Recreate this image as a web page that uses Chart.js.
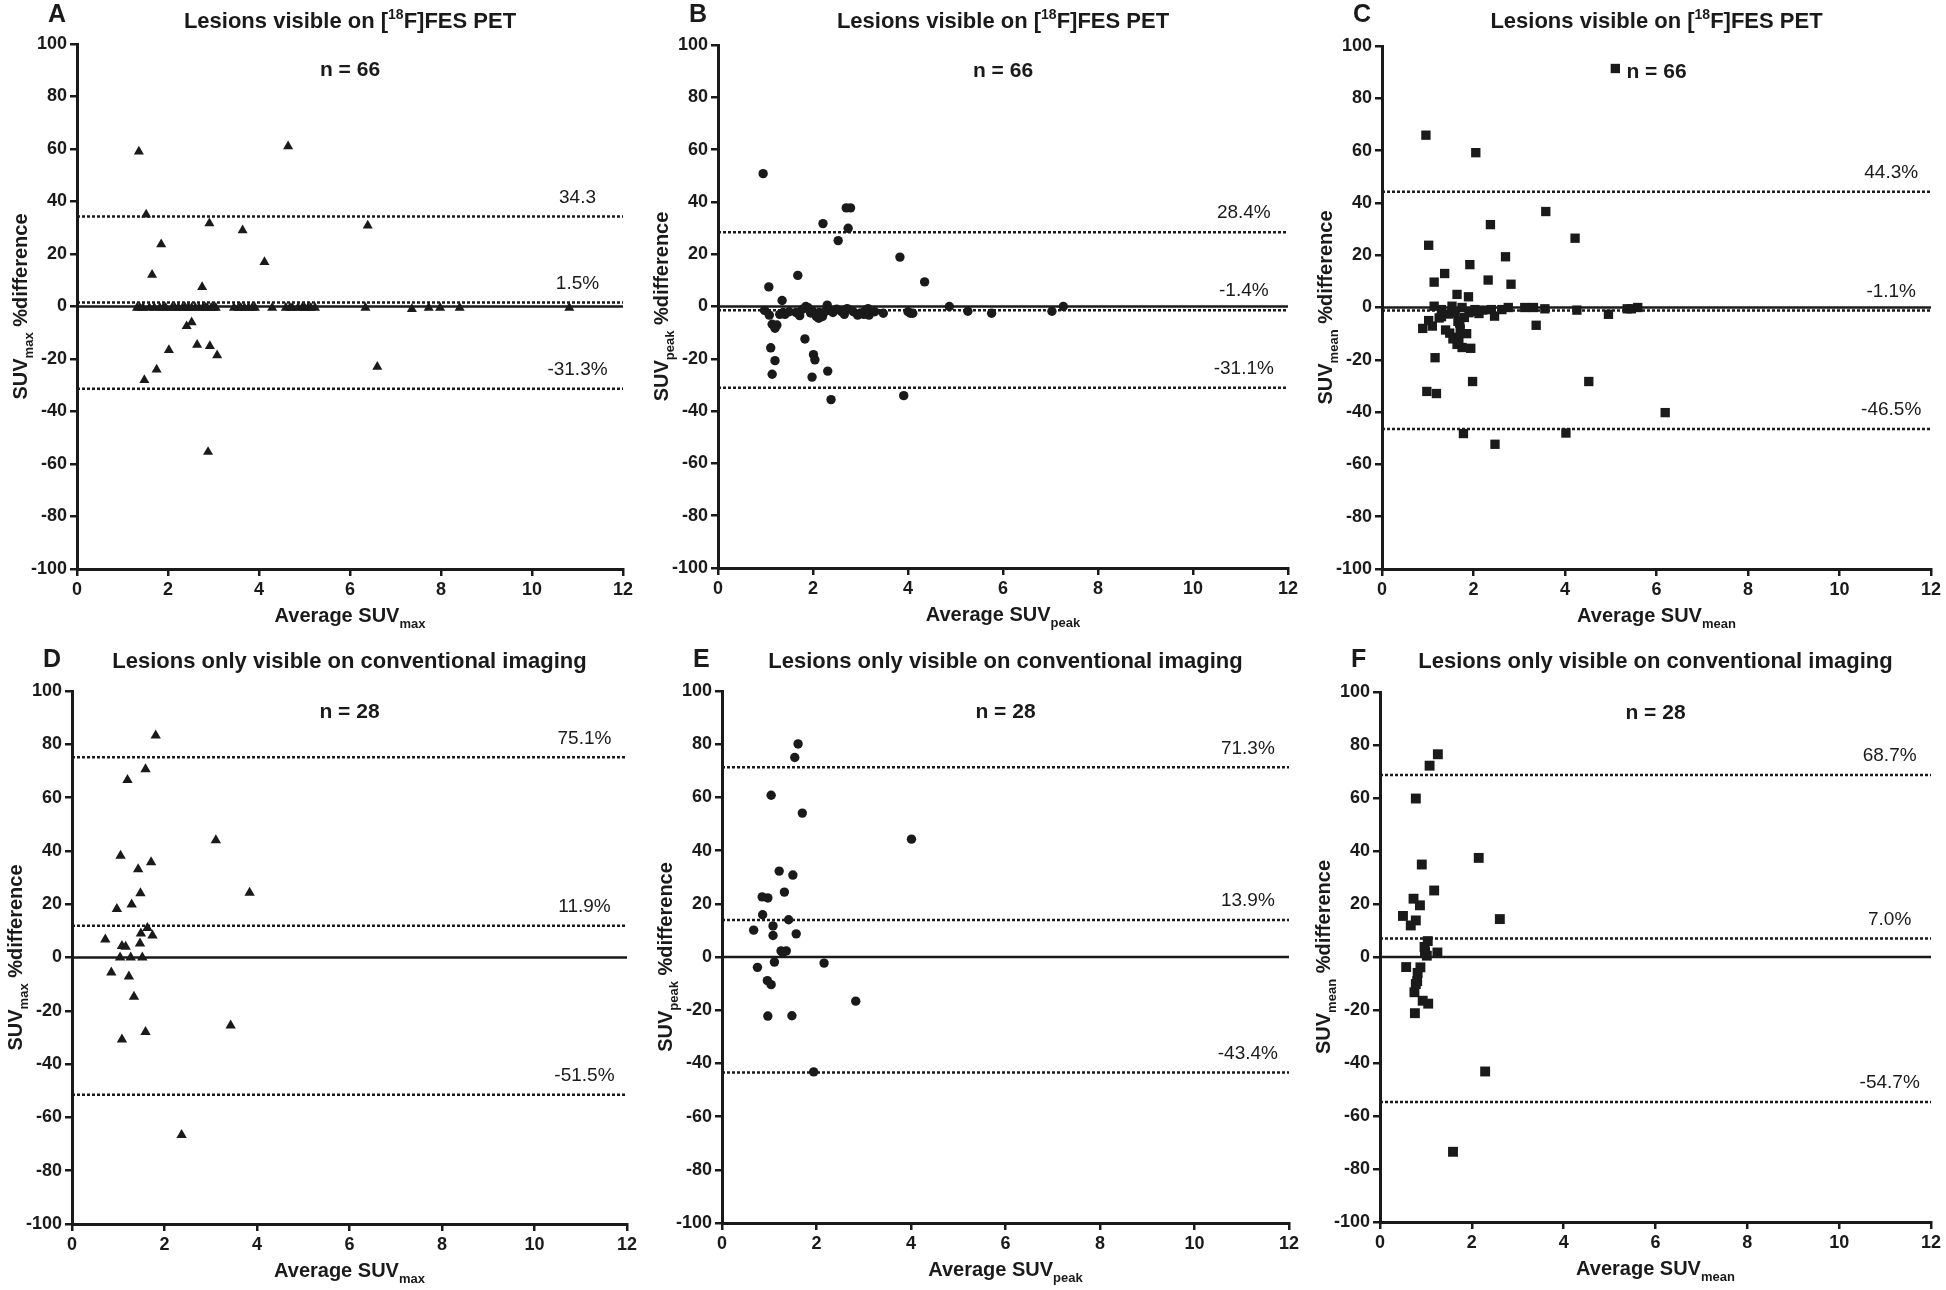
<!DOCTYPE html>
<html lang="en">
<head>
<meta charset="UTF-8">
<title>SUV % difference - FES PET</title>
<script src="https://cdn.jsdelivr.net/npm/chart.js@4.4.1/dist/chart.umd.min.js"></script>
<style>
    html, body { margin: 0; padding: 0; background: #fff; overflow: hidden; }
    body { width: 1946px; height: 1290px; position: relative; }
    canvas { position: absolute; }
</style>
</head>
<body>
<canvas id="chartA"></canvas>
<canvas id="chartB"></canvas>
<canvas id="chartC"></canvas>
<canvas id="chartD"></canvas>
<canvas id="chartE"></canvas>
<canvas id="chartF"></canvas>
<script>
// ---- data ----
const x_ticks_step = 2;
const y_ticks_step = 20;

// A: SUVmax, lesions visible on FES PET
const a_avg = [1.36,4.64,1.52,2.91,3.64,6.39,1.85,4.12,1.65,2.75,2.41,2.52,2.02,2.64,2.92,3.08,1.75,1.48,6.6,2.88,
    1.32,1.45,1.59,1.70,1.82,1.95,2.09,2.23,2.32,2.45,2.52,2.68,2.77,2.86,2.95,3.05,3.45,3.55,3.68,3.77,
    3.91,4.29,4.59,4.73,4.86,5.0,5.14,5.23,6.34,7.36,7.73,7.98,8.41,10.82,2.15,2.38,2.6,2.82,3.0,3.6,
    3.85,4.68,4.95,5.08,1.38,1.9];
const a_diff = [59,61,35,31.7,29,30.8,23.7,16.9,12.1,7.4,-7.5,-6,-16.6,-14.6,-15.1,-18.6,-24,-28,-23,-55.4,
    -0.5,-0.5,-0.5,-0.5,-0.5,-0.5,-0.5,-0.5,-0.5,-0.5,-0.5,-0.5,-0.5,-0.5,-0.5,-0.5,-0.5,-0.5,-0.5,-0.5,
    -0.5,-0.5,-0.5,-0.5,-0.5,-0.5,-0.5,-0.5,-0.5,-1,-0.5,-0.5,-0.5,-0.5,-0.5,-0.5,-0.5,-0.5,-0.5,-0.5,
    -0.5,-0.5,-0.5,-0.5,-0.5,-0.5];
const a_limits = [34.3, 1.5, -31.3];
const a_labels = ['34.3', '1.5%', '-31.3%'];

// B: SUVpeak, lesions visible on FES PET
const b_avg = [0.95,2.70,2.79,2.21,2.74,2.53,3.83,1.68,4.35,1.07,1.35,1.83,1.11,1.20,2.01,2.04,1.14,2.31,1.98,2.38,
    3.91,1.14,1.24,1.20,0.98,1.08,1.41,1.37,1.64,1.72,1.85,1.90,1.98,2.07,2.13,2.20,2.30,2.33,2.42,2.66,
    2.72,2.94,3.07,3.16,3.18,3.48,4.05,4.10,4.87,5.26,5.76,7.03,7.27,1.5,1.78,1.95,2.25,2.5,2.85,3.0,
    3.1,1.3,2.12,2.6,3.3,4.0];
const b_diff = [50.8,37.7,37.7,31.7,29.9,25.2,18.9,11.9,9.4,7.5,2.3,-12.4,-15.8,-20.7,-18.4,-20.4,-25.9,-24.7,-27,-35.6,
    -34.1,-6.8,-7.1,-8.3,-1.5,-3.3,-3,-2.3,-2.3,-3.5,0,-0.5,-1.5,-3.8,-2.3,-3.8,0.5,-1.5,-2.3,-3,
    -0.8,-3.3,-3,-0.8,-3.3,-2.6,-2.6,-2.6,0,-1.8,-2.6,-1.8,0,-2,-1,-2.5,-2,-1,-2,-2.5,
    -1.5,-3,-4.5,-2,-2,-2];
const b_limits = [28.4, -1.4, -31.1];
const b_labels = ['28.4%', '-1.4%', '-31.1%'];

// C: SUVmean, lesions visible on FES PET
const c_avg = [0.96,2.05,5.1,3.58,2.37,4.22,1.02,2.70,1.92,1.37,2.32,1.14,2.82,1.64,1.89,
    1.14,1.30,1.53,1.75,2.03,2.12,2.39,2.62,2.76,3.12,3.31,3.56,4.26,5.36,5.45,5.59,
    2.46,4.95,1.30,3.37,0.89,1.10,1.02,1.39,1.48,1.66,1.71,1.66,1.64,1.75,1.94,1.80,1.16,1.98,4.52,0.98,
    1.19,6.19,1.78,4.02,2.47,1.6,1.7,1.85,1.45,1.25,1.9,2.08,1.55,1.68,2.2];
const c_diff = [65.9,59.2,91.4,36.7,31.7,26.5,23.8,19.4,16.4,13,10.5,9.7,8.9,5,4.1,
    0.5,-0.8,0.5,0,-0.8,-2.3,-0.8,-0.8,0,0,0,-0.5,-1,-0.5,-0.5,0,
    -3.3,-2.6,-3.5,-6.8,-8,-7.1,-5,-8.6,-9.8,-5.3,-8.3,-11.4,-14.1,-15.3,-15.6,-3.8,-19.2,-28.3,-28.3,-32.1,
    -32.9,-40.2,-48.2,-48,-52.3,-2,-6,-10,-2.5,-4,-2,-1.5,-12,-13,-1];
const c_limits = [44.3, -1.1, -46.5];
const c_labels = ['44.3%', '-1.1%', '-46.5%'];

// D: SUVmax, lesions only visible on conventional imaging
const d_avg = [1.81,1.59,1.20,3.11,1.05,1.71,1.43,3.84,1.48,1.29,0.97,1.63,1.49,1.74,0.72,1.08,1.16,1.47,
    1.04,1.27,1.52,0.85,1.23,1.34,3.43,1.59,1.08,2.37];
const d_diff = [83.3,70.6,66.6,44.0,38.2,35.7,33.1,24.3,24.1,19.9,18.2,11.1,9.0,8.3,6.8,4.3,4.0,5.3,
    0,0,0,-5.6,-7.1,-14.7,-25.5,-28,-30.8,-66.6];
const d_limits = [75.1, 11.9, -51.5];
const d_labels = ['75.1%', '11.9%', '-51.5%'];

// E: SUVpeak, lesions only visible on conventional imaging
const e_avg = [1.61,1.54,1.04,1.70,4.01,1.21,1.50,1.32,0.85,0.97,0.86,1.41,0.67,1.08,1.08,1.57,1.25,1.36,
    1.29,1.11,0.75,2.16,0.96,1.04,2.83,0.97,1.48,1.94];
const e_diff = [80.1,75,60.8,54.1,44.3,32.3,30.8,24.4,22.6,22.2,15.9,14.0,10.1,11.7,8.1,8.7,2.3,2.3,
    1.6,-1.9,-3.9,-2.3,-8.9,-10.4,-16.6,-22.2,-22.1,-43.2];
const e_limits = [71.3, 13.9, -43.4];
const e_labels = ['71.3%', '13.9%', '-43.4%'];

// F: SUVmean, lesions only visible on conventional imaging
const f_avg = [1.26,1.08,0.78,2.15,0.91,1.18,0.73,0.87,0.50,2.61,0.78,0.67,1.04,0.97,1.25,1.02,0.57,0.88,
    0.82,0.81,0.78,0.75,0.93,1.05,0.76,2.29,1.59,0.98];
const f_diff = [76.5,72.2,59.8,37.4,34.9,25.1,22,19.5,15.5,14.3,13.8,11.9,6,3.8,1.7,0.5,-3.8,-3.9,
    -6,-9.1,-10.2,-13.3,-16.5,-17.6,-21.2,-43.2,-73.5,2];
const f_limits = [68.7, 7.0, -54.7];
const f_labels = ['68.7%', '7.0%', '-54.7%'];

// ---- drawing ----
const INK = '#1a1a1a';
const FAMILY = '"Liberation Sans", Arial, Helvetica, sans-serif';

const fesTitle = [{t: 'Lesions visible on ['}, {t: '18', k: 'sup'}, {t: 'F]FES PET'}];
const convTitle = [{t: 'Lesions only visible on conventional imaging'}];

const panels = [
    {id: 'A', area: {l: 77, t: 44, r: 623, b: 569}, row: 0, avg: a_avg, diff: a_diff, limits: a_limits, labels: a_labels,
        marker: 'triangle', radius: 5.8, sub: 'max', title: fesTitle, n: 'n = 66', nY: 90, labelX: 11.0},
    {id: 'B', area: {l: 718, t: 45, r: 1288, b: 568}, row: 0, avg: b_avg, diff: b_diff, limits: b_limits, labels: b_labels,
        marker: 'circle', radius: 4.7, sub: 'peak', title: fesTitle, n: 'n = 66', nY: 90, labelX: 11.07},
    {id: 'C', area: {l: 1382, t: 46, r: 1931, b: 569}, row: 0, avg: c_avg, diff: c_diff, limits: c_limits, labels: c_labels,
        marker: 'rect', radius: 6.6, sub: 'mean', title: fesTitle, n: 'n = 66', nY: 90, labelX: 11.13},
    {id: 'D', area: {l: 72, t: 691, r: 627, b: 1224}, row: 1, avg: d_avg, diff: d_diff, limits: d_limits, labels: d_labels,
        marker: 'triangle', radius: 6, sub: 'max', title: convTitle, n: 'n = 28', nY: 92, labelX: 11.08},
    {id: 'E', area: {l: 722, t: 691, r: 1289, b: 1223}, row: 1, avg: e_avg, diff: e_diff, limits: e_limits, labels: e_labels,
        marker: 'circle', radius: 4.7, sub: 'peak', title: convTitle, n: 'n = 28', nY: 92, labelX: 11.13},
    {id: 'F', area: {l: 1380, t: 692, r: 1931, b: 1222}, row: 1, avg: f_avg, diff: f_diff, limits: f_limits, labels: f_labels,
        marker: 'rect', radius: 7, sub: 'mean', title: convTitle, n: 'n = 28', nY: 92, labelX: 11.1}
];

const rowTop = [0, 640];
const rowHeight = [640, 650];
const letterY = [15, 660];
const titleY = [20, 660];

function drawRich(ctx, segs, cx, by, size) {
    const parts = segs.map(s => {
        const sz = s.k ? Math.round(size * 0.65) : size;
        const font = 'bold ' + sz + 'px ' + FAMILY;
        ctx.font = font;
        const dy = s.k === 'sub' ? size * 0.3 : (s.k === 'sup' ? -size * 0.42 : 0);
        return {t: s.t, font: font, w: ctx.measureText(s.t).width, dy: dy};
    });
    const total = parts.reduce((acc, q) => acc + q.w, 0);
    let x = cx - total / 2;
    ctx.textAlign = 'left';
    ctx.textBaseline = 'alphabetic';
    parts.forEach(q => {
        ctx.font = q.font;
        ctx.fillText(q.t, x, by + q.dy);
        x += q.w;
    });
}

function makeTextPlugin(p, top) {
    return {
        id: 'panelText' + p.id,
        afterDraw(chart) {
            const ctx = chart.ctx;
            const a = chart.chartArea;
            const xs = chart.scales.x, ys = chart.scales.y;
            const cx = (a.left + a.right) / 2;
            ctx.save();
            ctx.fillStyle = INK;

            ctx.font = 'bold 25px ' + FAMILY;
            ctx.textAlign = 'left';
            ctx.textBaseline = 'middle';
            ctx.fillText(p.id, a.left - 29, letterY[p.row] - top);

            drawRich(ctx, p.title, cx, titleY[p.row] - top + 8, 22);

            ctx.font = 'bold 21px ' + FAMILY;
            ctx.textAlign = 'center';
            ctx.textBaseline = 'middle';
            ctx.fillText(p.n, xs.getPixelForValue(6), ys.getPixelForValue(p.nY));

            ctx.font = '19px ' + FAMILY;
            p.limits.forEach((v, i) => {
                ctx.fillText(p.labels[i], xs.getPixelForValue(p.labelX), ys.getPixelForValue(v) - 19);
            });

            drawRich(ctx, [{t: 'Average SUV'}, {t: p.sub, k: 'sub'}], cx, a.bottom + 53, 20);

            ctx.translate(a.left - 50, (a.top + a.bottom) / 2);
            ctx.rotate(-Math.PI / 2);
            drawRich(ctx, [{t: 'SUV'}, {t: p.sub, k: 'sub'}, {t: ' %difference'}], 0, 0, 20);
            ctx.restore();
        }
    };
}

const tickFont = {family: FAMILY, size: 18, weight: 'bold'};

panels.forEach(p => {
    const a = p.area;
    const left = a.l - 80, top = rowTop[p.row];
    const w = a.r - a.l + 120, h = rowHeight[p.row];
    const canvas = document.getElementById('chart' + p.id);
    canvas.width = w; canvas.height = h;
    canvas.style.left = left + 'px'; canvas.style.top = top + 'px';
    canvas.style.width = w + 'px'; canvas.style.height = h + 'px';

    const points = p.avg.map((x, i) => ({x: x, y: p.diff[i]}));
    const hline = (v, dash) => ({
        type: 'line',
        data: [{x: 0, y: v}, {x: 12, y: v}],
        borderColor: INK, borderWidth: 2.5, borderDash: dash,
        pointRadius: 0, order: 2
    });

    new Chart(canvas, {
        type: 'scatter',
        data: {
            datasets: [
                {data: points, pointStyle: p.marker, pointRadius: p.radius, backgroundColor: INK,
                    borderColor: INK, borderWidth: 0, order: 0},
                hline(0, []),
                hline(p.limits[0], [3, 2]),
                hline(p.limits[1], [3, 2]),
                hline(p.limits[2], [3, 2])
            ]
        },
        options: {
            responsive: false,
            animation: false,
            devicePixelRatio: 1,
            layout: {padding: {left: 0, top: a.t - top, right: left + w - a.r, bottom: 0}},
            plugins: {legend: {display: false}, tooltip: {enabled: false}, title: {display: false}},
            scales: {
                x: {
                    type: 'linear', min: 0, max: 12,
                    ticks: {stepSize: x_ticks_step, font: tickFont, color: INK, padding: 3},
                    grid: {drawOnChartArea: false, tickLength: 7, color: INK, lineWidth: 2.5},
                    border: {color: INK, width: 3},
                    afterFit(s) { s.height = top + h - a.b; }
                },
                y: {
                    type: 'linear', min: -100, max: 100,
                    ticks: {stepSize: y_ticks_step, font: tickFont, color: INK, padding: 3},
                    grid: {drawOnChartArea: false, tickLength: 7, color: INK, lineWidth: 2.5},
                    border: {color: INK, width: 3},
                    afterFit(s) { s.width = a.l - left; }
                }
            }
        },
        plugins: [makeTextPlugin(p, top)]
    });
});
</script>
</body>
</html>
